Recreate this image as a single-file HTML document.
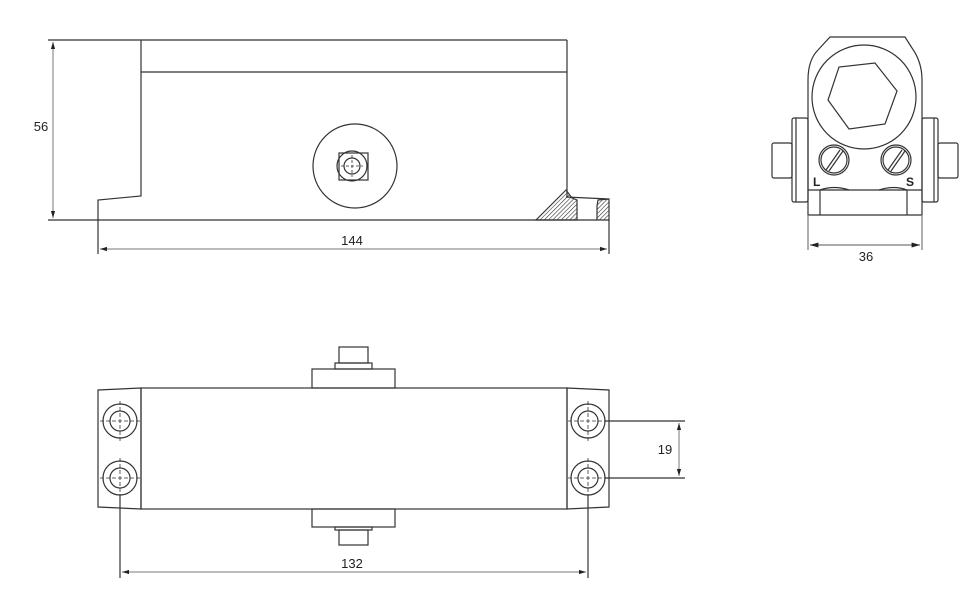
<!DOCTYPE html>
<html><head><style>html,body{margin:0;padding:0;background:#fff;}svg{display:block}</style></head>
<body>
<svg width="980" height="594" viewBox="0 0 980 594" xmlns="http://www.w3.org/2000/svg" font-family="Liberation Sans, sans-serif">
<defs>
<pattern id="h" width="3" height="3" patternUnits="userSpaceOnUse" patternTransform="rotate(45)"><line x1="0" y1="0" x2="0" y2="3" stroke="#333" stroke-width="1.2"/></pattern>
<marker id="a" viewBox="0 0 10 10" refX="10" refY="5" markerWidth="7" markerHeight="7" orient="auto-start-reverse"><path d="M0,2 L10,5 L0,8 z" fill="#222"/></marker>
</defs>
<g fill="none" stroke="#333" stroke-width="1.2">
<!-- front view -->
<line x1="48" y1="40" x2="567" y2="40"/>
<line x1="141" y1="72" x2="567" y2="72"/>
<polyline points="141,40 141,196 98,200 98,254"/>
<line x1="48" y1="220" x2="577" y2="220"/>
<line x1="567" y1="40" x2="567" y2="197"/>
<polygon points="536,220 566,190 572,198 577,200 577,220" fill="url(#h)"/>
<polyline points="566,197 609,199"/>
<polygon points="598,200 609,199 609,220 597,220 597,206" fill="url(#h)"/>
<line x1="577" y1="220" x2="597" y2="220"/>
<line x1="609" y1="220" x2="609" y2="254"/>
<circle cx="355" cy="166" r="42"/>
<circle cx="352" cy="166" r="15"/>
<rect x="339" y="153" width="29" height="27"/>
<circle cx="352" cy="166" r="8"/>
<g stroke-width="0.8" stroke-dasharray="3,2"><line x1="341" y1="166" x2="363" y2="166"/><line x1="352" y1="155" x2="352" y2="177"/></g>
<g stroke="#777" stroke-width="1"><line x1="53" y1="42" x2="53" y2="218" marker-start="url(#a)" marker-end="url(#a)"/>
<line x1="100" y1="249" x2="607" y2="249" marker-start="url(#a)" marker-end="url(#a)"/></g>

<!-- side view -->
<path d="M808,215 V80 Q808,60 818,50 L830,37 H905 L912,48 Q922,62 922,80 V215 Z"/>
<circle cx="864" cy="97" r="52"/>
<polygon points="897,91 885,124 849,129 828,100 839,67 875,63"/>
<line x1="808" y1="190" x2="922" y2="190"/>
<line x1="820" y1="190" x2="820" y2="215"/><line x1="907" y1="190" x2="907" y2="215"/>
<path d="M820,190 Q834,185 849,190 M879,190 Q894,185 907,190"/>
<circle cx="834" cy="160" r="15"/><circle cx="834" cy="160" r="13"/>
<line x1="826" y1="170" x2="840" y2="150"/><line x1="829" y1="171" x2="843" y2="151"/>
<circle cx="896" cy="160" r="15"/><circle cx="896" cy="160" r="13"/>
<line x1="888" y1="170" x2="902" y2="150"/><line x1="891" y1="171" x2="905" y2="151"/>
<rect x="792" y="118" width="16" height="84" rx="2"/>
<line x1="796" y1="118" x2="796" y2="202"/>
<rect x="772" y="143" width="20" height="35" rx="2"/>
<rect x="922" y="118" width="16" height="84" rx="2"/>
<line x1="934" y1="118" x2="934" y2="202"/>
<rect x="938" y="143" width="20" height="35" rx="2"/>
<line x1="808" y1="215" x2="808" y2="250" stroke="#777"/><line x1="922" y1="215" x2="922" y2="250" stroke="#777"/>
<line x1="810" y1="245" x2="920" y2="245" stroke="#777" marker-start="url(#a)" marker-end="url(#a)"/>

<!-- top view -->
<polygon points="98,390 141,388 141,509 98,507"/>
<rect x="141" y="388" width="426" height="121"/>
<polygon points="567,388 609,390 609,507 567,509"/>
<rect x="312" y="369" width="83" height="19"/>
<rect x="335" y="363" width="37" height="6"/>
<rect x="339" y="347" width="29" height="16"/>
<rect x="312" y="509" width="83" height="18"/>
<rect x="335" y="527" width="37" height="3"/>
<rect x="339" y="530" width="29" height="15"/>
<g>
<circle cx="120" cy="421" r="17"/><circle cx="120" cy="421" r="10"/>
<circle cx="120" cy="478" r="17"/><circle cx="120" cy="478" r="10"/>
<circle cx="588" cy="421" r="17"/><circle cx="588" cy="421" r="10"/>
<circle cx="588" cy="478" r="17"/><circle cx="588" cy="478" r="10"/>
</g>
<g stroke-width="0.8" stroke-dasharray="4,2">
<line x1="100" y1="421" x2="140" y2="421"/><line x1="120" y1="401" x2="120" y2="441"/>
<line x1="100" y1="478" x2="140" y2="478"/><line x1="120" y1="458" x2="120" y2="495"/>
<line x1="568" y1="421" x2="608" y2="421"/><line x1="588" y1="401" x2="588" y2="441"/>
<line x1="568" y1="478" x2="608" y2="478"/><line x1="588" y1="458" x2="588" y2="495"/>
</g>
<line x1="120" y1="495" x2="120" y2="578"/><line x1="588" y1="495" x2="588" y2="578"/>
<line x1="605" y1="421" x2="685" y2="421"/><line x1="605" y1="478" x2="685" y2="478"/>
<g stroke="#777" stroke-width="1">
<line x1="679" y1="423" x2="679" y2="476" marker-start="url(#a)" marker-end="url(#a)"/>
<line x1="122" y1="572" x2="586" y2="572" marker-start="url(#a)" marker-end="url(#a)"/></g>
</g>
<g font-size="13" fill="#222" text-anchor="middle">
<text x="41" y="131">56</text>
<text x="352" y="245">144</text>
<text x="866" y="261">36</text>
<text x="665" y="454">19</text>
<text x="352" y="568">132</text>
</g>
<g font-size="12" font-weight="bold" fill="#222"><text x="813" y="186">L</text><text x="906" y="186">S</text></g>
</svg>
</body></html>
